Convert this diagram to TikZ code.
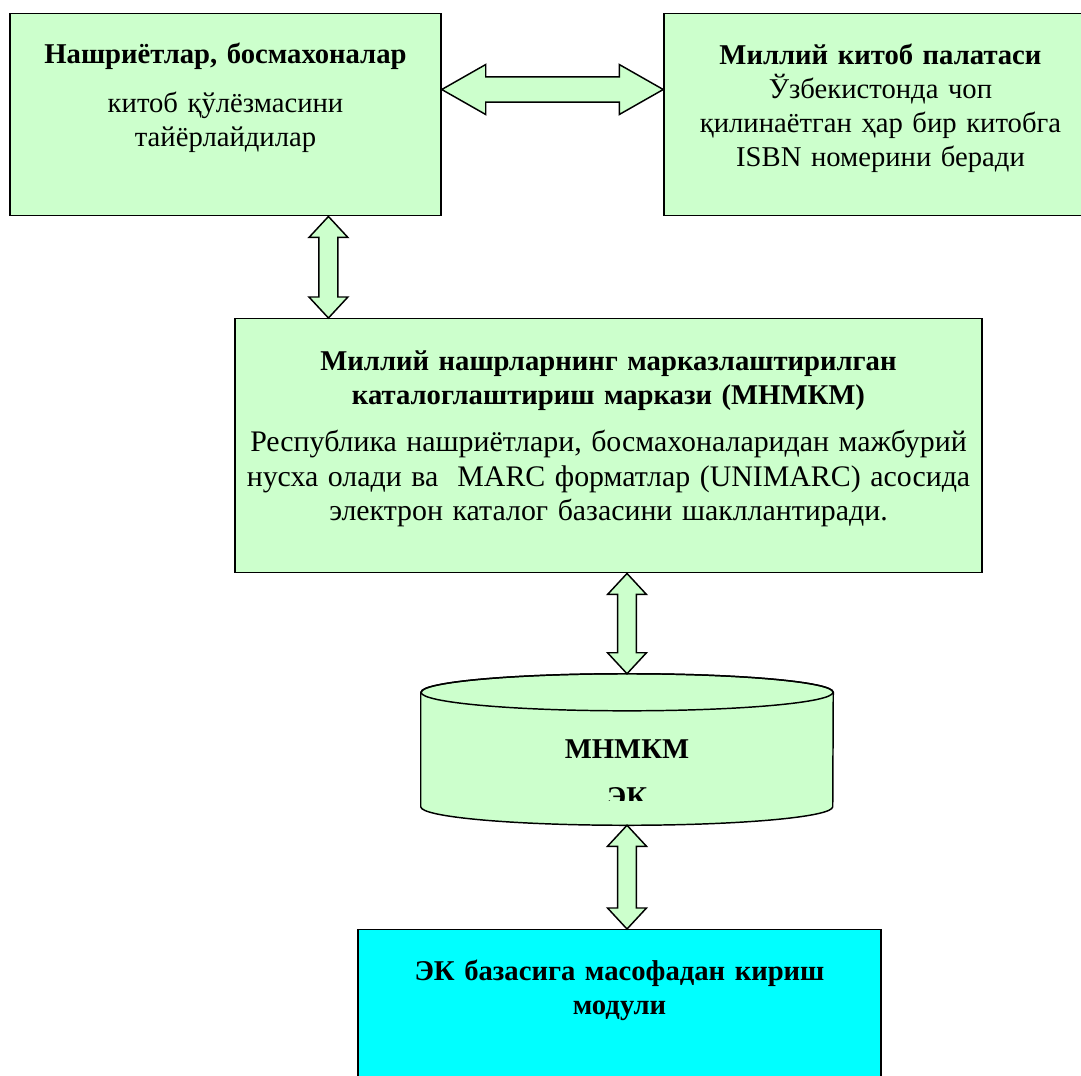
\documentclass[tikz,border=0pt]{standalone}
\usepackage{fontspec}
\setmainfont{Liberation Serif}
\usetikzlibrary{calc}

\definecolor{boxgreen}{HTML}{CCFFCC}
\definecolor{modulecyan}{HTML}{00FFFF}

% vertical double block arrow, from top point #1 to bottom point #2
\newcommand{\vdblarrow}[2]{%
  \filldraw[blockarrow] let \p1=(#1), \p2=(#2) in
    (\x1,\y1) -- (\x1+14.6pt,\y1-15.75pt) -- (\x1+7.1pt,\y1-15.75pt)
    -- (\x1+7.1pt,\y2+15.75pt) -- (\x1+14.6pt,\y2+15.75pt) -- (\x1,\y2)
    -- (\x1-14.6pt,\y2+15.75pt) -- (\x1-7.1pt,\y2+15.75pt)
    -- (\x1-7.1pt,\y1-15.75pt) -- (\x1-14.6pt,\y1-15.75pt) -- cycle;}

% horizontal double block arrow, from left point #1 to right point #2
\newcommand{\hdblarrow}[2]{%
  \filldraw[blockarrow] let \p1=(#1), \p2=(#2) in
    (\x1,\y1) -- (\x1+33pt,\y1+18.75pt) -- (\x1+33pt,\y1+9.4pt)
    -- (\x2-33pt,\y1+9.4pt) -- (\x2-33pt,\y1+18.75pt) -- (\x2,\y1)
    -- (\x2-33pt,\y1-18.75pt) -- (\x2-33pt,\y1-9.4pt)
    -- (\x1+33pt,\y1-9.4pt) -- (\x1+33pt,\y1-18.75pt) -- cycle;}

\begin{document}
\begin{tikzpicture}[x=0.75pt,y=-0.75pt,
    blockarrow/.style={draw=black,fill=boxgreen,line width=1.1pt},
    infobox/.style={draw=black,fill=boxgreen,line width=1.1pt,inner sep=0pt,
      anchor=north,align=center,font=\fontsize{21.5pt}{25.5pt}\selectfont}]
  \useasboundingbox (0,0) rectangle (1081,1075);
  \clip (0,0) rectangle (1081,1075);

  % Publishers
  \node [infobox,text width=323.25pt,text height=37.5pt,text depth=114pt] (pub) at (225.5,13)
    {{\bfseries Нашриётлар, босмахоналар}\\[11pt]китоб қўлёзмасини\\тайёрлайдилар};

  % National book chamber
  \node [infobox,text width=324.75pt,text height=38.25pt,text depth=113.25pt] (kp) at (880.5,13)
    {{\bfseries Миллий китоб палатаси}\\Ўзбекистонда чоп\\қилинаётган ҳар бир китобга\\ISBN номерини беради};

  % Cataloguing centre
  \node [infobox,text width=560.25pt,text height=39pt,text depth=151.5pt] (mnmkm) at (608.5,318)
    {{\bfseries Миллий нашрларнинг марказлаштирилган}\\{\bfseries каталоглаштириш маркази (МНМКМ)}\\[9pt]%
     {\fontsize{22.4pt}{26.25pt}\selectfont Республика нашриётлари, босмахоналаридан мажбурий\\нусха олади ва\ \ MARC форматлар (UNIMARC) асосида\\электрон каталог базасини шакллантиради.}};

  % Electronic catalogue (drawn as a cylinder round the node)
  \node [minimum width=309pt,minimum height=113.25pt,inner sep=0pt] (ek) at (627,749.5) {};
  \filldraw [draw=black,fill=boxgreen,line width=1.1pt]
    ([yshift=-13.9pt]ek.north west) -- ([yshift=13.9pt]ek.south west)
    arc [start angle=180,end angle=360,x radius=154.5pt,y radius=13.9pt]
    -- ([yshift=-13.9pt]ek.north east)
    arc [start angle=0,end angle=180,x radius=154.5pt,y radius=13.9pt] -- cycle;
  \draw [line width=1.1pt] ([yshift=-13.9pt]ek.north) ellipse [x radius=154.5pt,y radius=13.9pt];
  \begin{scope}
    \clip (421,674) rectangle (833,800);
    \node [anchor=base,text width=309pt,align=center,font=\fontsize{21.5pt}{25.5pt}\selectfont\bfseries] (ektext) at (627,758)
      {МНМКМ\\[10.5pt]ЭК};
  \end{scope}

  % Remote access module
  \node [infobox,fill=modulecyan,text width=392.25pt,text height=38.25pt,text depth=96.75pt] (modul) at (619.5,929)
    {\bfseries ЭК базасига масофадан кириш\\\bfseries модули};

  % Arrows
  \coordinate (h1) at ($(pub.north east)!0.376!(pub.south east)$);
  \hdblarrow{h1}{h1 -| kp.west}
  \coordinate (v1) at ($(pub.south west)!0.738!(pub.south east)$);
  \vdblarrow{v1}{v1 |- mnmkm.north}
  \vdblarrow{ek.north |- mnmkm.south}{ek.north}
  \vdblarrow{ek.south}{ek.south |- modul.north}
\end{tikzpicture}
\end{document}
